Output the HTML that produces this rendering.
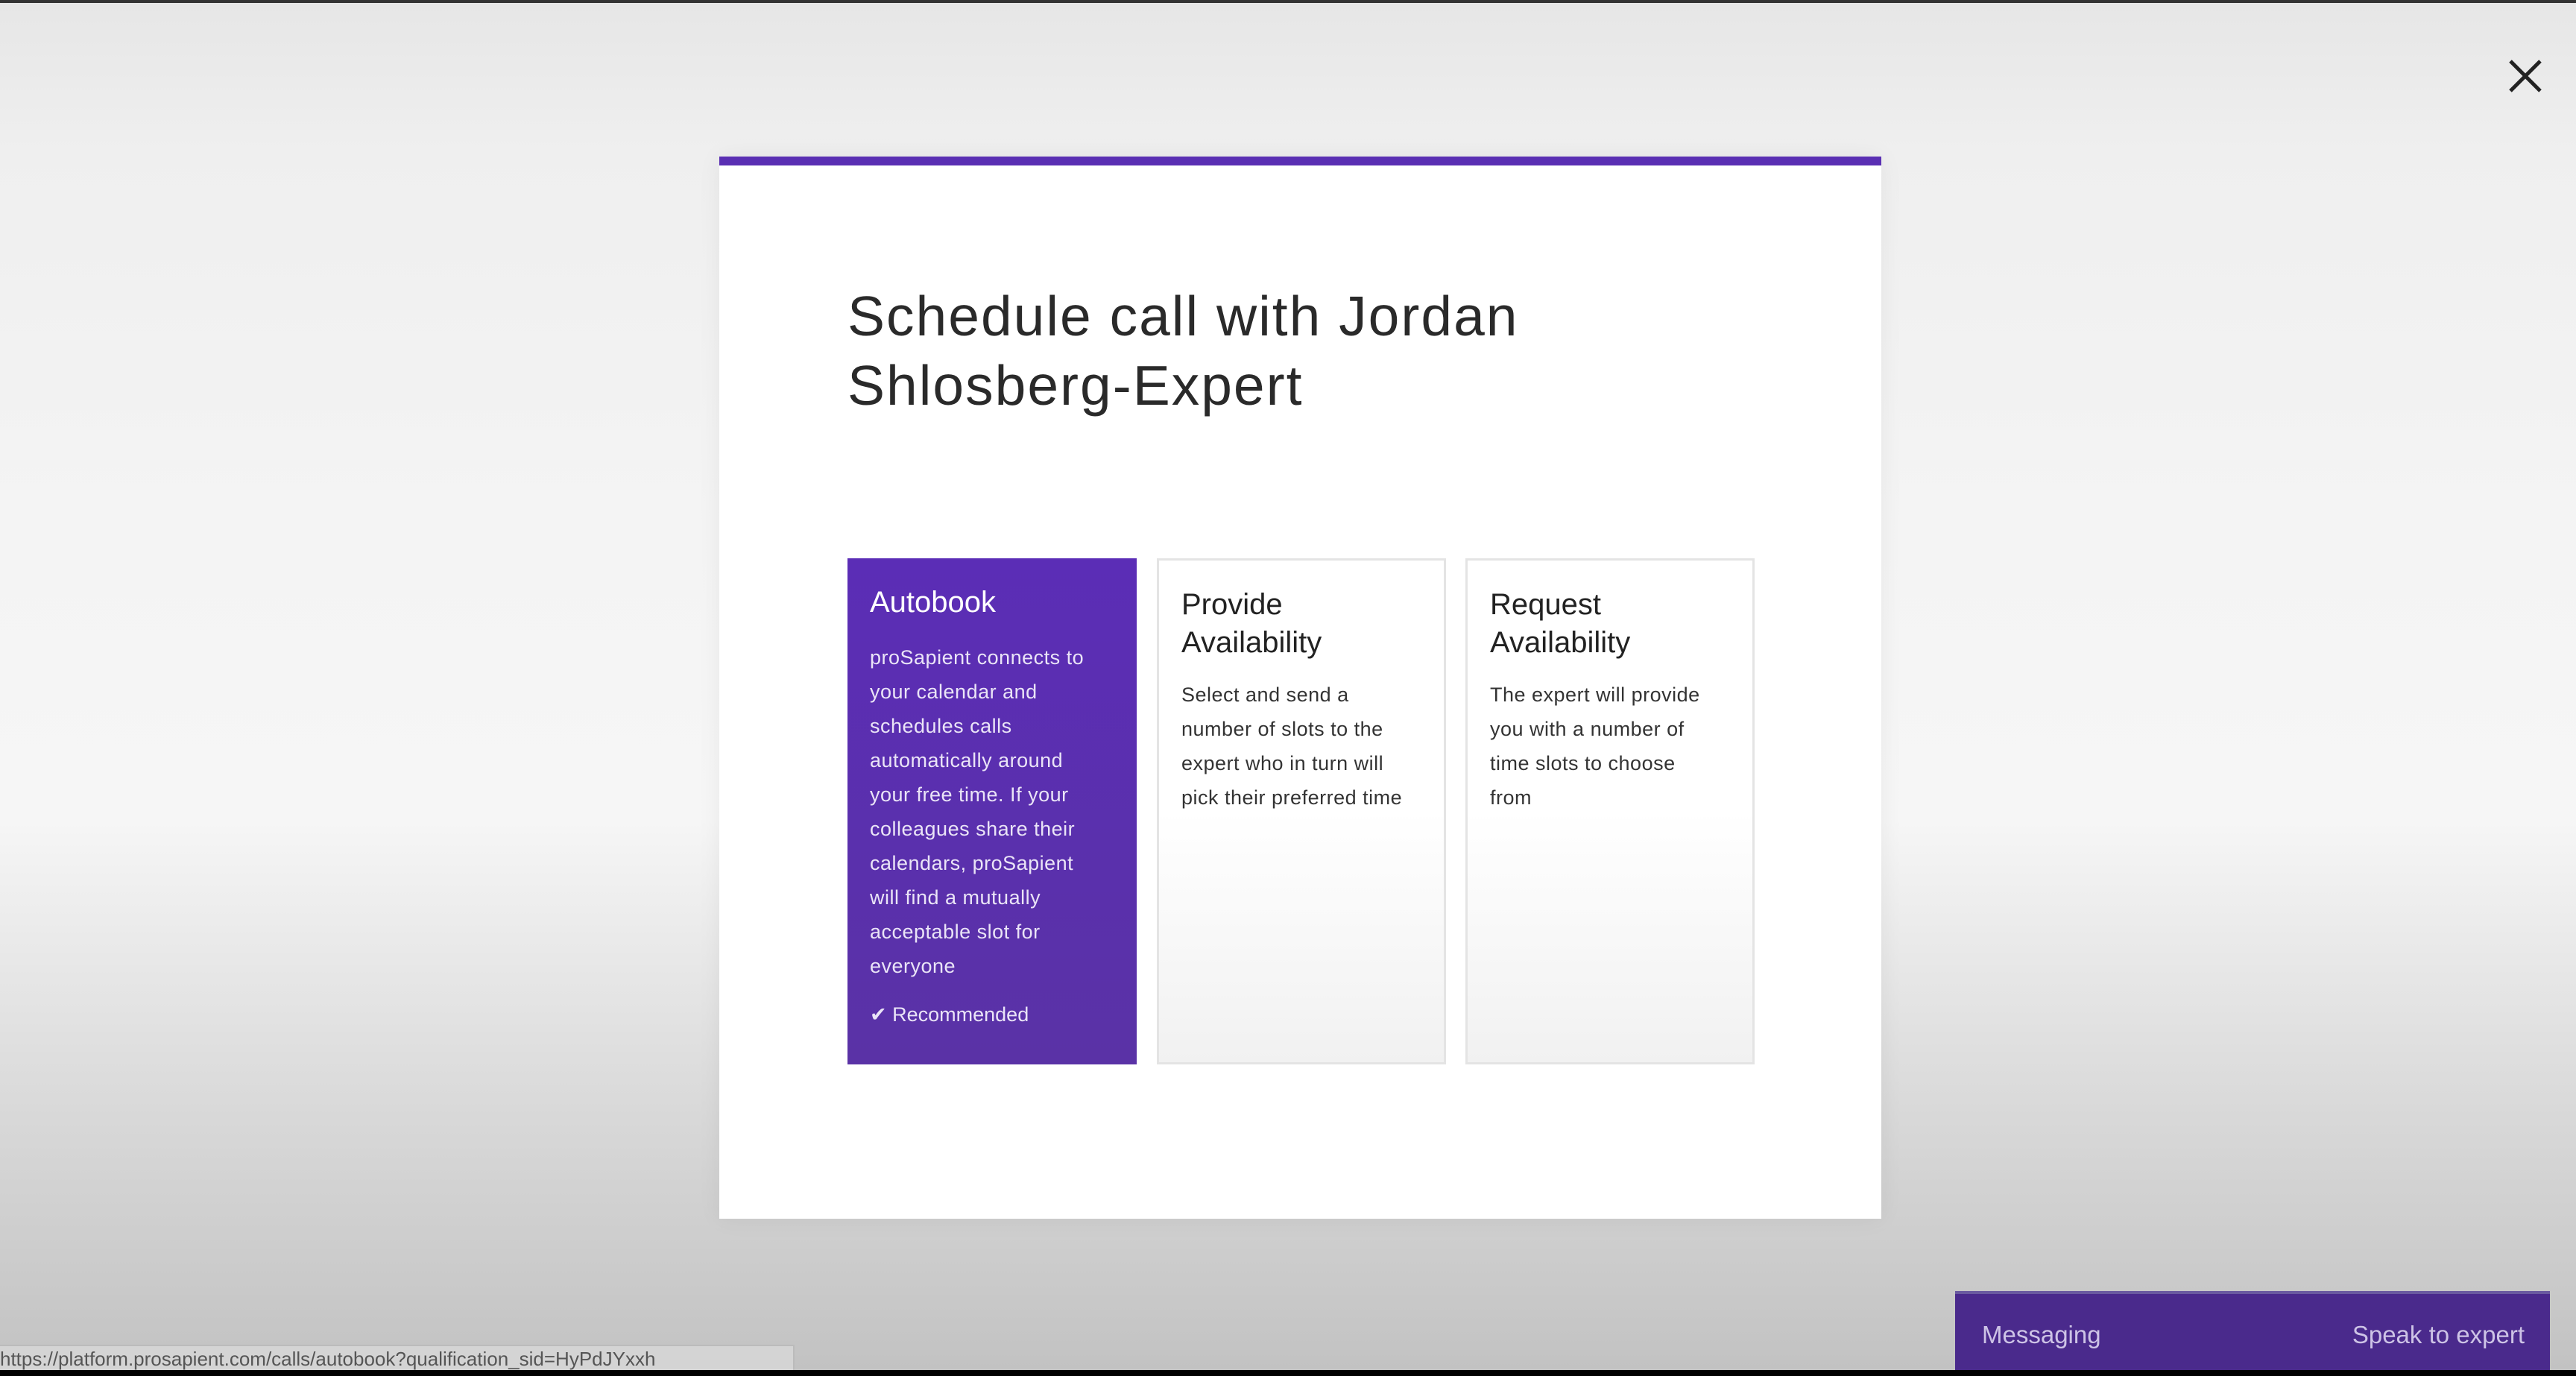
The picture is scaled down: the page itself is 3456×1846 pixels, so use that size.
<!DOCTYPE html>
<html><head><meta charset="utf-8"><style>
html,body{margin:0;padding:0}
body{width:3456px;height:1846px;position:relative;overflow:hidden;font-family:"Liberation Sans",sans-serif;
background:linear-gradient(180deg,#e6e6e6 0px,#efefef 200px,#f4f4f4 700px,#f6f6f6 1100px,#d8d8d8 1500px,#c2c2c2 1840px);}
.topline{position:absolute;left:0;top:0;width:3456px;height:4px;background:#333}
.bottomline{position:absolute;left:0;top:1838px;width:3456px;height:8px;background:#000}
.close{position:absolute;left:3362px;top:76px;width:52px;height:52px}
.modal{position:absolute;left:965px;top:210px;width:1559px;height:1425px;background:#fff;box-shadow:0 0 30px rgba(0,0,0,0.06)}
.modal .bar{position:absolute;left:0;top:0;width:100%;height:12px;background:#5a2fb3}
.title{position:absolute;left:172px;top:168px;font-size:75px;line-height:93px;color:#2a2a2a;letter-spacing:2px}
.card{position:absolute;top:539px;width:388px;height:679px;box-sizing:border-box;border:3px solid #e4e4e4;background:linear-gradient(180deg,#fff 50%,#f1f1f1 100%)}
.card.sel{background:linear-gradient(180deg,#5b2db6,#5a32a6);border:none}
.card h3{margin:0;position:absolute;left:30px;top:34px;font-size:40px;line-height:51px;font-weight:normal;color:#222}
.card.sel h3{color:#fff}
.card p{margin:0;position:absolute;left:30px;font-size:27px;line-height:46px;color:#333;letter-spacing:0.5px}
.card.sel p{color:#eae4f7}
.rec{position:absolute;left:30px;top:597px;font-size:27px;color:#eae4f7}
.msg{position:absolute;left:2623px;top:1732px;width:798px;height:106px;background:#4a2a8c;border-top:4px solid #6a5aa0;color:#cdc3e6}
.msg span{position:absolute;top:36px;font-size:33px}
.url{position:absolute;left:0;top:1804px;width:1064px;height:34px;background:#d4d4d4;border:2px solid #bbb;border-left:none;color:#555;font-size:26px;line-height:34px;white-space:nowrap;overflow:hidden}
</style></head><body>
<div class="topline"></div>
<svg class="close" viewBox="0 0 52 52"><path d="M6 6L46 46M46 6L6 46" stroke="#222" stroke-width="5"/></svg>
<div class="modal">
<div class="bar"></div>
<div class="title">Schedule call with Jordan<br>Shlosberg-Expert</div>
<div class="card sel" style="left:172px">
<h3>Autobook</h3>
<p style="top:110px">proSapient connects to<br>your calendar and<br>schedules calls<br>automatically around<br>your free time. If your<br>colleagues share their<br>calendars, proSapient<br>will find a mutually<br>acceptable slot for<br>everyone</p>
<div class="rec">✔ Recommended</div>
</div>
<div class="card" style="left:587px">
<h3>Provide<br>Availability</h3>
<p style="top:157px">Select and send a<br>number of slots to the<br>expert who in turn will<br>pick their preferred time</p>
</div>
<div class="card" style="left:1001px">
<h3>Request<br>Availability</h3>
<p style="top:157px">The expert will provide<br>you with a number of<br>time slots to choose<br>from</p>
</div>
</div>
<div class="msg">
<span style="left:36px">Messaging</span>
<span style="right:34px">Speak to expert</span>
</div>
<div class="url">https://platform.prosapient.com/calls/autobook?qualification_sid=HyPdJYxxh</div>
<div class="bottomline"></div>
</body></html>
